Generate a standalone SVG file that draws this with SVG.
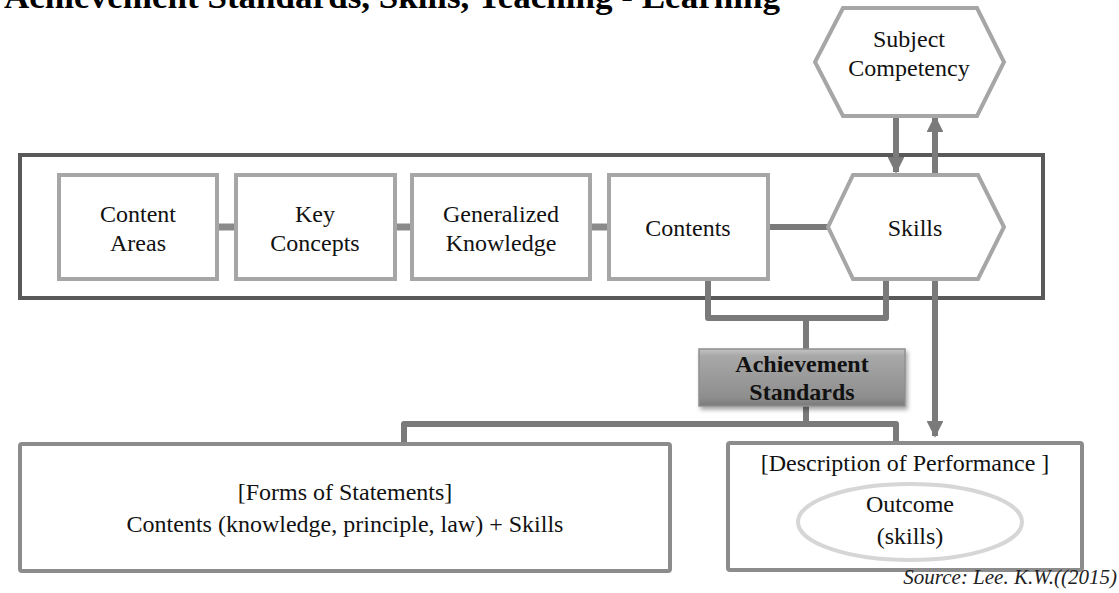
<svg xmlns="http://www.w3.org/2000/svg" width="1119" height="593" viewBox="0 0 1119 593">
<defs>
<style>
.lbl{font-size:24px;fill:#111;text-anchor:middle}
.bold{font-weight:bold}
.box{fill:#fff;stroke:#a6a6a6;stroke-width:4}
.low{fill:#fff;stroke:#8c8c8c;stroke-width:4}
.con{fill:none;stroke:#7a7a7a;stroke-width:6;stroke-linejoin:round}
.lt{fill:none;stroke:#8a8a8a;stroke-width:7}
</style>
<linearGradient id="g" x1="0" y1="0" x2="0" y2="1">
<stop offset="0" stop-color="#c4c4c4"/>
<stop offset="0.12" stop-color="#a8a8a8"/>
<stop offset="0.85" stop-color="#8e8e8e"/>
<stop offset="1" stop-color="#7a7a7a"/>
</linearGradient>
<filter id="sh" x="-10%" y="-20%" width="130%" height="150%">
<feDropShadow dx="2" dy="3" stdDeviation="2" flood-color="#000" flood-opacity="0.35"/>
</filter>
<marker id="ah" viewBox="0 0 10 10" refX="9" refY="5" markerWidth="2.8" markerHeight="2.8" orient="auto" markerUnits="strokeWidth">
<path d="M0,0 L10,5 L0,10 z" fill="#7a7a7a"/>
</marker>
</defs>
<rect width="1119" height="593" fill="#fff"/>
<text x="4" y="8" font-family="Liberation Serif, serif" font-weight="bold" font-size="34" textLength="776" lengthAdjust="spacingAndGlyphs" fill="#000">Achievement Standards, Skills, Teaching - Learning</text>

<g id="frame"><rect x="20" y="155" width="1023" height="143" fill="none" stroke="#595959" stroke-width="4"/></g>

<g id="connectors">
<line class="lt" x1="217" y1="227" x2="236" y2="227"/>
<line class="lt" x1="395" y1="227" x2="412" y2="227"/>
<line class="lt" x1="590" y1="227" x2="609" y2="227"/>
<line class="con" x1="768" y1="227" x2="828" y2="227"/>
<path class="con" d="M708,279 V318 H886 V279"/>
<line class="con" x1="806" y1="318" x2="806" y2="349"/>
<line class="con" x1="806" y1="406" x2="806" y2="424"/>
<path class="con" d="M404,444 V424 H896 V443"/>
<line class="con" x1="896" y1="116" x2="896" y2="172" marker-end="url(#ah)"/>
<line class="con" x1="935" y1="173" x2="935" y2="117" marker-end="url(#ah)"/>
<line class="con" x1="935" y1="279" x2="935" y2="436" marker-end="url(#ah)"/>
</g>

<g id="subject-competency">
<polygon class="box" points="843,8 977,8 1004,62 977,116 843,116 815,62"/>
<text class="lbl" style="font-family:'Liberation Serif',serif" x="909" y="47">Subject</text>
<text class="lbl" style="font-family:'Liberation Serif',serif" x="909" y="76">Competency</text>
</g>

<g id="content-areas">
<rect class="box" x="59" y="175" width="158" height="104"/>
<text class="lbl" style="font-family:'Liberation Serif',serif" x="138" y="222">Content</text>
<text class="lbl" style="font-family:'Liberation Serif',serif" x="138" y="251">Areas</text>
</g>
<g id="key-concepts">
<rect class="box" x="236" y="175" width="159" height="104"/>
<text class="lbl" style="font-family:'Liberation Serif',serif" x="315" y="222">Key</text>
<text class="lbl" style="font-family:'Liberation Serif',serif" x="315" y="251">Concepts</text>
</g>
<g id="generalized-knowledge">
<rect class="box" x="412" y="175" width="178" height="104"/>
<text class="lbl" style="font-family:'Liberation Serif',serif" x="501" y="222">Generalized</text>
<text class="lbl" style="font-family:'Liberation Serif',serif" x="501" y="251">Knowledge</text>
</g>
<g id="contents">
<rect class="box" x="609" y="175" width="159" height="104"/>
<text class="lbl" style="font-family:'Liberation Serif',serif" x="688" y="236">Contents</text>
</g>
<g id="skills">
<polygon class="box" points="853,175 978,175 1004,227 978,279 853,279 828,227"/>
<text class="lbl" style="font-family:'Liberation Serif',serif" x="915" y="236">Skills</text>
</g>

<g id="achievement-standards">
<rect x="699" y="349" width="206" height="57" fill="url(#g)" stroke="#8f8f8f" stroke-width="1.5" filter="url(#sh)"/>
<text class="lbl bold" style="font-family:'Liberation Serif',serif" x="802" y="372">Achievement</text>
<text class="lbl bold" style="font-family:'Liberation Serif',serif" x="802" y="400">Standards</text>
</g>

<g id="forms-of-statements">
<rect class="low" x="20" y="444" width="650" height="127" rx="2"/>
<text class="lbl" style="font-family:'Liberation Serif',serif" x="345" y="500">[Forms of Statements]</text>
<text class="lbl" style="font-family:'Liberation Serif',serif" x="345" y="532">Contents (knowledge, principle, law) + Skills</text>
</g>

<g id="description-of-performance">
<rect class="low" x="728" y="443" width="354" height="127" rx="2"/>
<text class="lbl" style="font-family:'Liberation Serif',serif" x="905" y="471">[Description of Performance ]</text>
<ellipse cx="910" cy="522" rx="112" ry="38" fill="#fff" stroke="#d6d6d6" stroke-width="4"/>
<text class="lbl" style="font-family:'Liberation Serif',serif" x="910" y="512">Outcome</text>
<text class="lbl" style="font-family:'Liberation Serif',serif" x="910" y="544">(skills)</text>
</g>

<text x="1117" y="584" font-family="Liberation Serif, serif" font-style="italic" font-size="21" text-anchor="end" fill="#222">Source: Lee. K.W.((2015)</text>
</svg>
